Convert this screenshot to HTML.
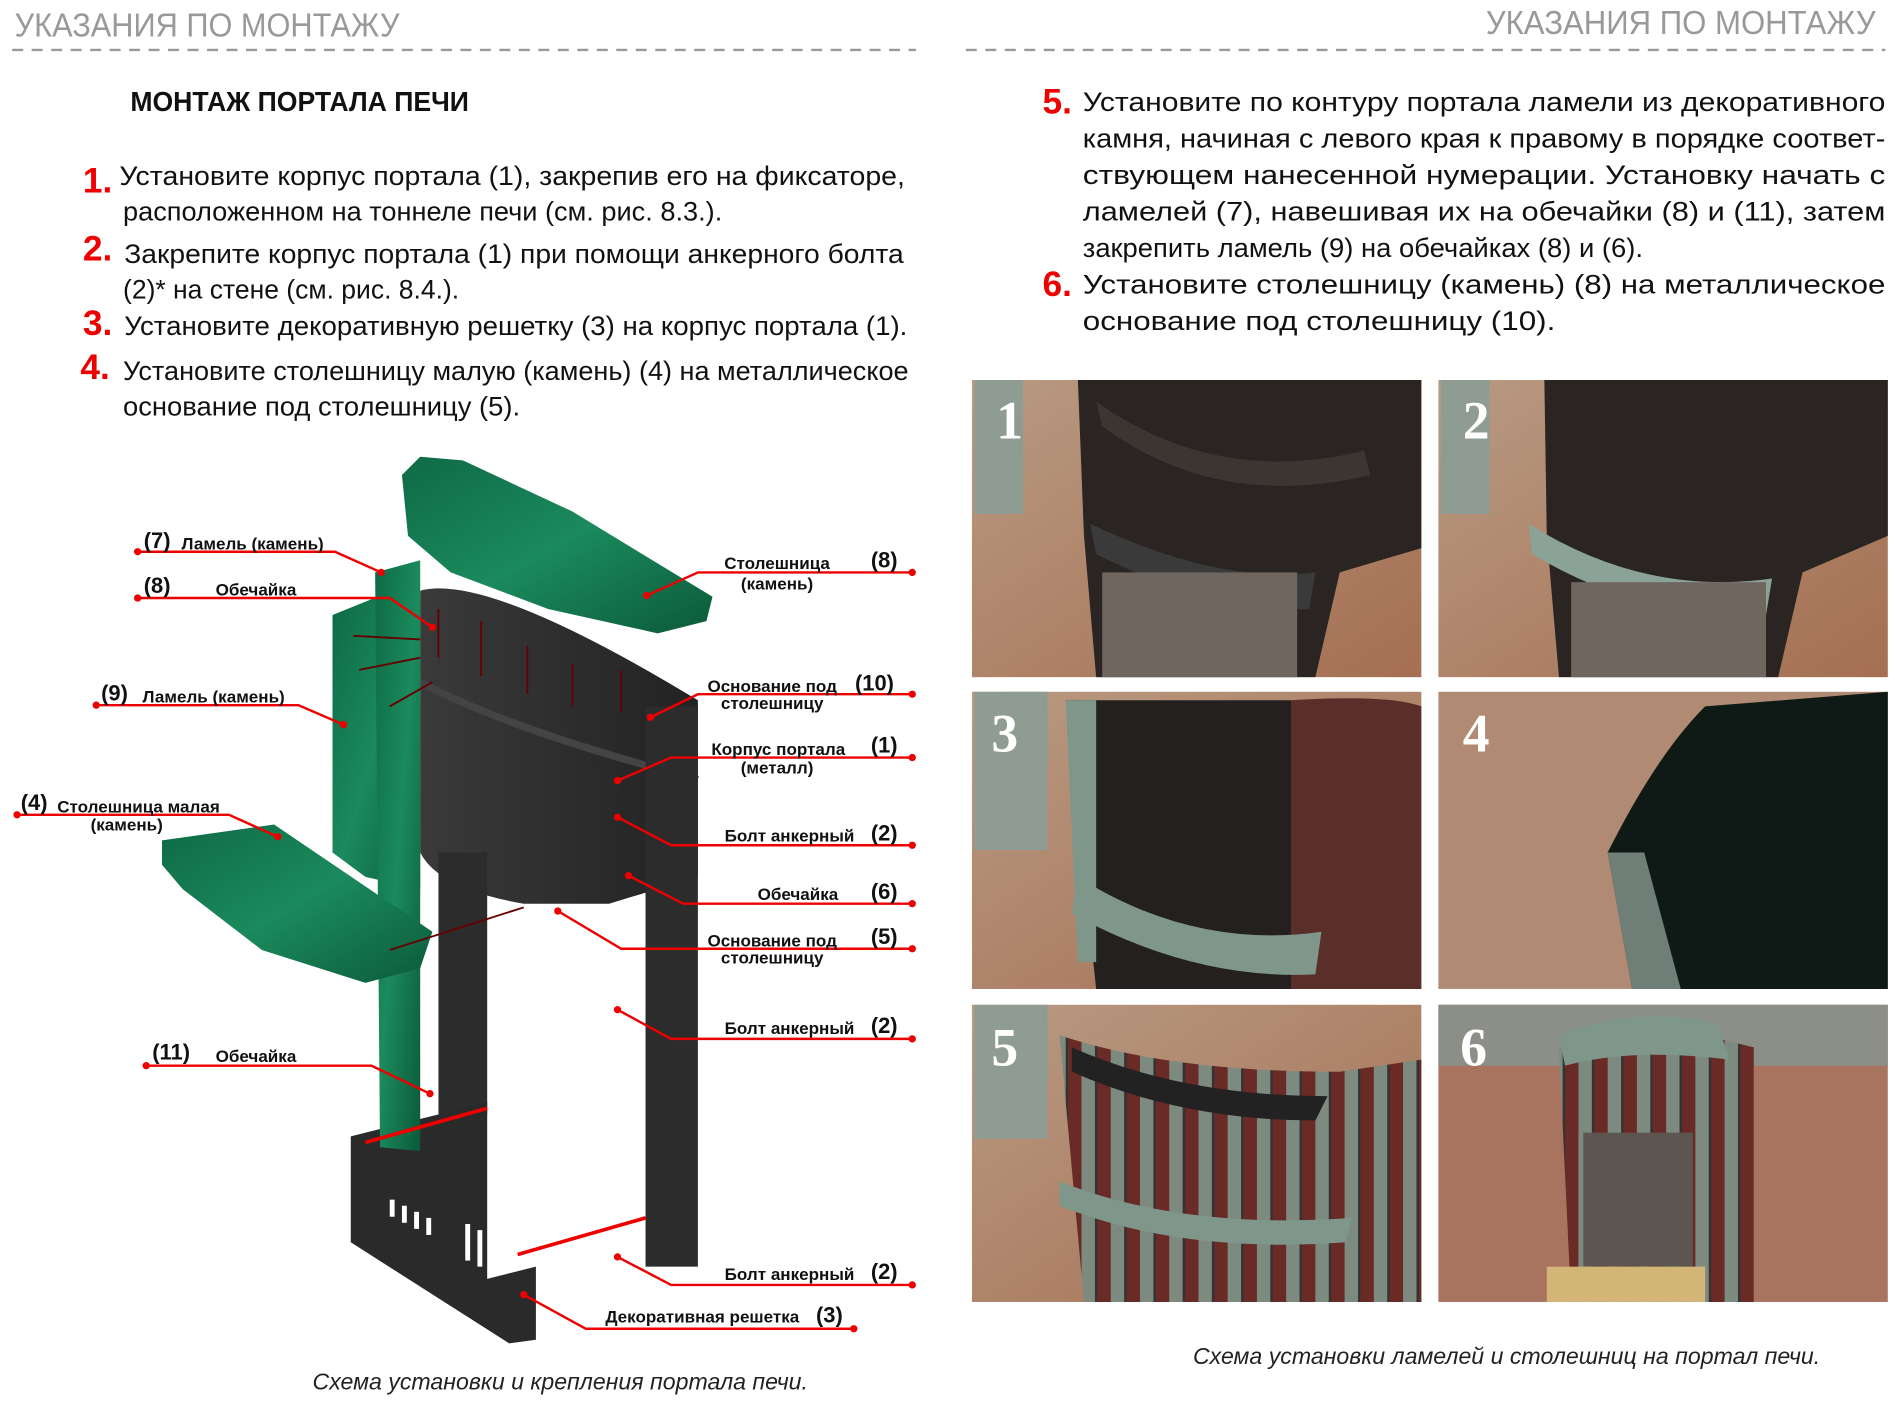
<!DOCTYPE html>
<html><head><meta charset="utf-8"><style>
html,body{margin:0;padding:0;background:#fff;width:1900px;height:1405px;overflow:hidden}
svg{display:block}
.t{font-family:"Liberation Sans Narrow","Liberation Sans",sans-serif;font-size:22px;fill:#111}
.n{font-family:"Liberation Sans",sans-serif;font-weight:bold;font-size:29px;fill:#e00}
.h{font-family:"Liberation Sans Narrow","Liberation Sans",sans-serif;font-size:27px;fill:#999}
.lb{font-family:"Liberation Sans",sans-serif;font-weight:bold;font-size:14px;fill:#111}
.ln{font-family:"Liberation Sans",sans-serif;font-weight:bold;font-size:18px;fill:#111}
.cap{font-family:"Liberation Sans",sans-serif;font-style:italic;font-size:19px;fill:#222}
.pn{font-family:"Liberation Serif",serif;font-weight:bold;font-size:44px;fill:#fff}
.r{stroke:#e00;stroke-width:2;fill:none}
</style></head><body>
<svg width="1900" height="1405" viewBox="0 0 1560 1153.6" xmlns="http://www.w3.org/2000/svg">
<defs>
<linearGradient id="fl" x1="0" y1="0" x2="1" y2="1"><stop offset="0" stop-color="#b89a82"/><stop offset="1" stop-color="#a56f52"/></linearGradient>
<linearGradient id="gr" x1="0" y1="0" x2="1" y2="1"><stop offset="0" stop-color="#0e6a45"/><stop offset=".5" stop-color="#1b8a5c"/><stop offset="1" stop-color="#0b5a3a"/></linearGradient>
<linearGradient id="mt" x1="0" y1="0" x2="1" y2="0"><stop offset="0" stop-color="#3a3a3a"/><stop offset="1" stop-color="#222"/></linearGradient>
<pattern id="lam" width="24" height="244" patternUnits="userSpaceOnUse"><rect width="24" height="244" fill="#7d8a80"/><rect x="12" width="12" height="244" fill="#6a2a25"/><rect x="11" width="2" height="244" fill="#333"/></pattern>
</defs>
<text class="h" x="12" y="30" textLength="316" lengthAdjust="spacingAndGlyphs">УКАЗАНИЯ ПО МОНТАЖУ</text>
<line x1="10" y1="41" x2="752" y2="41" stroke="#999" stroke-width="2" stroke-dasharray="9,7"/>
<text class="h" x="1220" y="28" textLength="320" lengthAdjust="spacingAndGlyphs">УКАЗАНИЯ ПО МОНТАЖУ</text>
<line x1="793" y1="41" x2="1548" y2="41" stroke="#999" stroke-width="2" stroke-dasharray="9,7"/>
<text x="107" y="91" font-family="Liberation Sans Narrow, Liberation Sans, sans-serif" font-weight="bold" font-size="23" fill="#111" textLength="278" lengthAdjust="spacingAndGlyphs">МОНТАЖ ПОРТАЛА ПЕЧИ</text>
<text class="n" x="68" y="158">1.</text>
<text class="t" x="98" y="152" textLength="645" lengthAdjust="spacingAndGlyphs">Установите  корпус  портала  (1),  закрепив его на фиксаторе,</text>
<text class="t" x="101" y="181" textLength="492" lengthAdjust="spacingAndGlyphs">расположенном на тоннеле печи (см. рис. 8.3.).</text>
<text class="n" x="68" y="214">2.</text>
<text class="t" x="102" y="216" textLength="640" lengthAdjust="spacingAndGlyphs">Закрепите корпус портала (1)  при помощи анкерного болта</text>
<text class="t" x="101" y="245" textLength="276" lengthAdjust="spacingAndGlyphs">(2)*  на стене (см. рис. 8.4.).</text>
<text class="n" x="68" y="275">3.</text>
<text class="t" x="102" y="275" textLength="643" lengthAdjust="spacingAndGlyphs">Установите декоративную решетку (3) на корпус портала (1).</text>
<text class="n" x="66" y="311">4.</text>
<text class="t" x="101" y="312" textLength="645" lengthAdjust="spacingAndGlyphs">Установите столешницу малую (камень) (4) на металлическое</text>
<text class="t" x="101" y="341" textLength="326" lengthAdjust="spacingAndGlyphs">основание под столешницу (5).</text>
<text class="n" x="856" y="93">5.</text>
<text class="t" x="889" y="91" textLength="659" lengthAdjust="spacingAndGlyphs">Установите  по  контуру  портала  ламели  из  декоративного</text>
<text class="t" x="889" y="121" textLength="659" lengthAdjust="spacingAndGlyphs">камня, начиная с левого края  к правому в порядке соответ-</text>
<text class="t" x="889" y="151" textLength="659" lengthAdjust="spacingAndGlyphs">ствующем   нанесенной   нумерации.  Установку   начать   с</text>
<text class="t" x="889" y="181" textLength="659" lengthAdjust="spacingAndGlyphs">ламелей  (7),  навешивая  их  на  обечайки  (8)  и  (11),  затем</text>
<text class="t" x="889" y="211" textLength="460" lengthAdjust="spacingAndGlyphs">закрепить ламель (9) на обечайках (8) и (6).</text>
<text class="n" x="856" y="243">6.</text>
<text class="t" x="889" y="241" textLength="659" lengthAdjust="spacingAndGlyphs">Установите    столешницу    (камень)   (8)   на    металлическое</text>
<text class="t" x="889" y="271" textLength="388" lengthAdjust="spacingAndGlyphs">основание    под    столешницу    (10).</text>
<g>
<rect x="798" y="312" width="369" height="244" fill="url(#fl)"/>
<rect x="800" y="312" width="40" height="110" fill="#8f9c94"/>
<path d="M885 312H1167V450L1100 470L1080 556H900L890 440Z" fill="#2a2522"/>
<path d="M900 330Q1000 400 1120 370L1125 390Q1000 420 905 350Z" fill="#3c3633"/>
<path d="M895 430Q1000 480 1080 470L1075 500Q1000 505 900 455Z" fill="#3a3a3a"/>
<rect x="905" y="470" width="160" height="86" fill="#6f6660"/>
<text class="pn" x="818" y="360">1</text>
<rect x="1181" y="312" width="369" height="244" fill="url(#fl)"/>
<rect x="1183" y="312" width="40" height="110" fill="#8f9c94"/>
<path d="M1268 312H1550V440L1480 470L1460 556H1280L1270 440Z" fill="#2a2522"/>
<path d="M1255 430Q1350 490 1455 475L1450 505Q1350 510 1258 455Z" fill="#8aa297"/>
<rect x="1290" y="478" width="160" height="78" fill="#6f6660"/>
<text class="pn" x="1201" y="360">2</text>
<rect x="798" y="568" width="369" height="244" fill="url(#fl)"/>
<rect x="800" y="568" width="60" height="130" fill="#8f9c94"/>
<path d="M1060 575Q1140 570 1167 580V812H1050Z" fill="#5a2f2a"/>
<path d="M875 575H1060V812H900Z" fill="#242020"/>
<path d="M875 575H900V790H885Z" fill="#7f968b"/>
<path d="M885 720Q980 780 1085 765L1080 800Q980 805 880 750Z" fill="#7f968b"/>
<text class="pn" x="814" y="617">3</text>
<rect x="1181" y="568" width="369" height="244" fill="#b08a72"/>
<path d="M1320 700Q1360 620 1400 580L1550 568V812H1340Z" fill="#0f1a16"/>
<path d="M1320 700L1340 812H1380L1350 700Z" fill="#6f7f78"/>
<text class="pn" x="1201" y="617">4</text>
<rect x="798" y="825" width="369" height="244" fill="url(#fl)"/>
<rect x="800" y="825" width="60" height="110" fill="#8f9c94"/>
<path d="M870 850Q960 880 1100 880L1167 870V1069H890Z" fill="url(#lam)"/>
<path d="M880 860Q970 900 1090 900L1080 920Q970 920 880 880Z" fill="#222"/>
<path d="M870 970Q970 1010 1110 1000L1105 1020Q970 1030 870 990Z" fill="#7f968b"/>
<text class="pn" x="814" y="875">5</text>
<rect x="1181" y="825" width="369" height="244" fill="#a87460"/>
<rect x="1181" y="825" width="369" height="50" fill="#8b8f88"/>
<path d="M1280 860Q1340 840 1400 850L1440 860V1069H1290Z" fill="url(#lam)"/>
<path d="M1280 850Q1340 825 1410 840L1420 870Q1340 860 1285 875Z" fill="#7f968b"/>
<rect x="1300" y="930" width="90" height="110" fill="#5c5550"/>
<rect x="1270" y="1040" width="130" height="29" fill="#d3b577"/>
<text class="pn" x="1199" y="875">6</text>
</g>
<text class="cap" x="1237" y="1120" text-anchor="middle">Схема установки ламелей и столешниц  на портал печи.</text>
<text class="cap" x="460" y="1141" text-anchor="middle">Схема установки  и крепления портала печи.</text>
<g>
<path d="M345 485Q400 470 573 575V720L500 742L430 742Q360 730 345 700Z" fill="url(#mt)"/>
<path d="M345 560Q420 600 573 640" stroke="#444" stroke-width="6" fill="none"/>
<rect x="360" y="700" width="40" height="215" fill="#2c2c2c"/>
<rect x="530" y="580" width="43" height="460" fill="#2c2c2c"/>
<path d="M288 933L400 905V1050L440 1040V1100L418 1103L288 1020Z" fill="#2a2a2a"/>
<g fill="#fff"><rect x="320" y="985" width="4" height="14"/><rect x="330" y="990" width="4" height="14"/><rect x="340" y="995" width="4" height="14"/><rect x="350" y="1000" width="4" height="14"/><rect x="382" y="1005" width="4" height="30"/><rect x="392" y="1010" width="4" height="30"/><rect x="402" y="1015" width="4" height="30"/></g>
<path d="M273 505L310 490L345 495V730L300 720L273 700Z" fill="url(#gr)"/>
<path d="M308 470L345 460V945L312 942Z" fill="url(#gr)"/>
<path d="M330 390L345 375L380 378L470 420L585 490L580 510L540 520L450 500L370 470L335 440Z" fill="url(#gr)"/>
<path d="M133 690L225 677L355 765L345 795L300 807L215 780L150 730L133 710Z" fill="url(#gr)"/>
<g stroke="#600" stroke-width="1.5"><line x1="360" y1="500" x2="360" y2="540"/><line x1="395" y1="510" x2="395" y2="555"/><line x1="433" y1="530" x2="433" y2="570"/><line x1="470" y1="545" x2="470" y2="580"/><line x1="510" y1="550" x2="510" y2="585"/><line x1="290" y1="522" x2="345" y2="525"/><line x1="295" y1="550" x2="345" y2="540"/><line x1="320" y1="580" x2="355" y2="560"/><line x1="320" y1="780" x2="430" y2="745"/></g>
<g stroke="#e00" stroke-width="3"><line x1="300" y1="938" x2="400" y2="910"/><line x1="425" y1="1030" x2="530" y2="1000"/></g>
</g>
<g class="r">
<path d="M113 453H275L313 470"/><path d="M113 491H320L355 515"/><path d="M79 579H245L282 595"/>
<path d="M14 669H188L228 687"/><path d="M120 875H305L353 898"/>
<path d="M531 489L573 470H749"/><path d="M534 589L573 570H749"/><path d="M507 641L551 622H749"/>
<path d="M507 671L551 694H749"/><path d="M516 719L561 742H749"/><path d="M458 748L510 779H749"/>
<path d="M507 829L551 853H749"/><path d="M507 1032L551 1055H749"/><path d="M430 1063L481 1091H701"/>
</g>
<g fill="#e00">
<circle cx="113" cy="453" r="3"/><circle cx="113" cy="491" r="3"/><circle cx="79" cy="579" r="3"/><circle cx="14" cy="669" r="3"/><circle cx="120" cy="875" r="3"/>
<circle cx="749" cy="470" r="3"/><circle cx="749" cy="570" r="3"/><circle cx="749" cy="622" r="3"/><circle cx="749" cy="694" r="3"/><circle cx="749" cy="742" r="3"/><circle cx="749" cy="779" r="3"/><circle cx="749" cy="853" r="3"/><circle cx="749" cy="1055" r="3"/><circle cx="701" cy="1091" r="3"/>
<circle cx="313" cy="470" r="3"/><circle cx="355" cy="515" r="3"/><circle cx="282" cy="595" r="3"/><circle cx="228" cy="687" r="3"/><circle cx="353" cy="898" r="3"/><circle cx="531" cy="489" r="3"/><circle cx="534" cy="589" r="3"/><circle cx="507" cy="641" r="3"/><circle cx="507" cy="671" r="3"/><circle cx="516" cy="719" r="3"/><circle cx="458" cy="748" r="3"/><circle cx="507" cy="829" r="3"/><circle cx="507" cy="1032" r="3"/><circle cx="430" cy="1063" r="3"/>
</g>
<text class="ln" x="118" y="450">(7)</text><text class="lb" x="149" y="451">Ламель (камень)</text>
<text class="ln" x="118" y="487">(8)</text><text class="lb" x="177" y="489">Обечайка</text>
<text class="ln" x="83" y="575">(9)</text><text class="lb" x="117" y="577">Ламель (камень)</text>
<text class="ln" x="17" y="665">(4)</text><text class="lb" x="47" y="667">Столешница малая</text><text class="lb" x="104" y="682" text-anchor="middle">(камень)</text>
<text class="ln" x="125" y="870">(11)</text><text class="lb" x="177" y="872">Обечайка</text>
<text class="lb" x="638" y="467" text-anchor="middle">Столешница</text><text class="lb" x="638" y="484" text-anchor="middle">(камень)</text><text class="ln" x="715" y="466">(8)</text>
<text class="lb" x="634" y="568" text-anchor="middle">Основание под</text><text class="lb" x="634" y="582" text-anchor="middle">столешницу</text><text class="ln" x="702" y="567">(10)</text>
<text class="lb" x="639" y="620" text-anchor="middle">Корпус портала</text><text class="lb" x="638" y="635" text-anchor="middle">(металл)</text><text class="ln" x="715" y="618">(1)</text>
<text class="lb" x="595" y="691">Болт анкерный</text><text class="ln" x="715" y="690">(2)</text>
<text class="lb" x="622" y="739">Обечайка</text><text class="ln" x="715" y="738">(6)</text>
<text class="lb" x="634" y="777" text-anchor="middle">Основание под</text><text class="lb" x="634" y="791" text-anchor="middle">столешницу</text><text class="ln" x="715" y="775">(5)</text>
<text class="lb" x="595" y="849">Болт анкерный</text><text class="ln" x="715" y="848">(2)</text>
<text class="lb" x="595" y="1051">Болт анкерный</text><text class="ln" x="715" y="1050">(2)</text>
<text class="lb" x="497" y="1086">Декоративная решетка</text><text class="ln" x="670" y="1086">(3)</text>
</svg>
</body></html>
